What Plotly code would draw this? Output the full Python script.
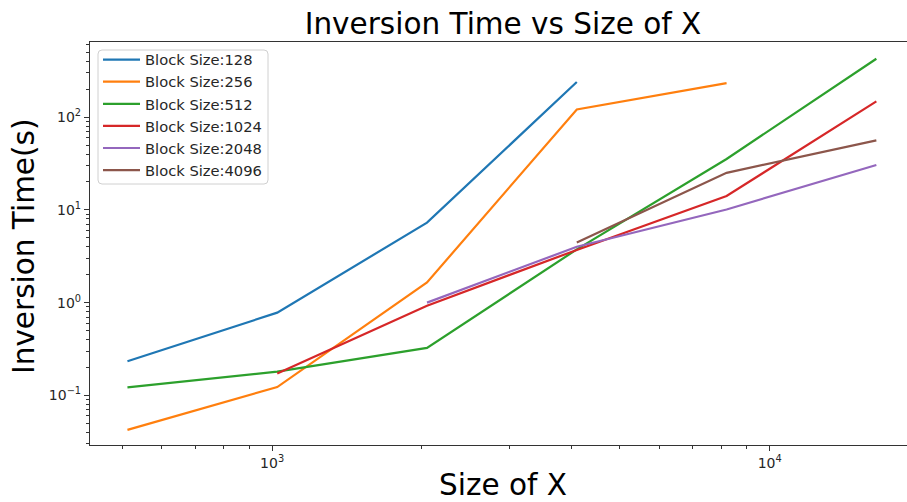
import plotly.graph_objects as go

sizes = [512, 1024, 2048, 4096, 8192, 16384]
labels = ["Block Size:128", "Block Size:256", "Block Size:512",
          "Block Size:1024", "Block Size:2048", "Block Size:4096"]
bs128 = [0.233, 0.78, 7.28, 239]
bs256 = [0.0425, 0.123, 1.65, 121, 233]
bs512 = [0.122, 0.18, 0.325, 3.75, 35.4, 426]
bs1024 = [0.172, 0.927, 3.7, 14.1, 148]
bs2048 = [1.0, 4.0, 10.1, 30.5]
bs4096 = [4.44, 25.1, 56.1]
colors = ["#1f77b4", "#ff7f0e", "#2ca02c", "#d62728", "#9467bd", "#8c564b"]

series = [
    (sizes[:4], bs128),
    (sizes[:5], bs256),
    (sizes[0:6], bs512),
    (sizes[1:6], bs1024),
    (sizes[2:6], bs2048),
    (sizes[3:6], bs4096),
]

W, H = 907, 502
L, T, B = 90, 42, 57
FONT = "DejaVu Sans"
W_plot = W - L
H_plot = H - T - B


def px(xp):
    return (xp - L) / W_plot


def py(yp):
    return (H - B - yp) / H_plot


fig = go.Figure()
for (x, y), name, c in zip(series, labels, colors):
    fig.add_trace(go.Scatter(x=x, y=y, mode="lines", name=name,
                             line=dict(color=c, width=2.2)))

xminor = [v * 10 ** e for e in (2, 3, 4) for v in range(2, 10)]
yminor = [v * 10.0 ** e for e in (-2, -1, 0, 1, 2) for v in range(2, 10)]

tickfont = dict(family=FONT, size=14, color="#262626")
fig.update_xaxes(type="log", range=[2.634, 4.276],
                 tickvals=[1000, 10000],
                 ticktext=["10<sup>3</sup>", "10<sup>4</sup>"],
                 ticks="outside", ticklen=5, tickwidth=1.1, tickcolor="#333",
                 minor=dict(tickvals=xminor, ticks="outside", ticklen=3,
                            tickwidth=0.8, tickcolor="#333", showgrid=False),
                 showline=True, linecolor="#333", linewidth=1.2, mirror=True,
                 showgrid=False, zeroline=False, tickfont=tickfont)
fig.update_yaxes(type="log", range=[-1.535, 2.81],
                 tickvals=[0.1, 1, 10, 100],
                 ticktext=["10<sup>−1</sup>", "10<sup>0</sup>", "10<sup>1</sup>", "10<sup>2</sup>"],
                 ticks="outside", ticklen=5, tickwidth=1.1, tickcolor="#333",
                 minor=dict(tickvals=yminor, ticks="outside", ticklen=3,
                            tickwidth=0.8, tickcolor="#333", showgrid=False),
                 showline=True, linecolor="#333", linewidth=1.2, mirror=False,
                 showgrid=False, zeroline=False, tickfont=tickfont)

# legend frame (rounded box) drawn as a shape, legend itself transparent
x0, x1, y0, y1, r = px(98), px(268), py(50), py(184), 4
rx, ry = r / W_plot, r / H_plot
path = (f"M {x0+rx},{y0} L {x1-rx},{y0} Q {x1},{y0} {x1},{y0-ry} "
        f"L {x1},{y1+ry} Q {x1},{y1} {x1-rx},{y1} L {x0+rx},{y1} "
        f"Q {x0},{y1} {x0},{y1+ry} L {x0},{y0-ry} Q {x0},{y0} {x0+rx},{y0} Z")

fig.update_layout(
    width=W, height=H,
    margin=dict(l=L, r=0, t=T, b=B, autoexpand=False),
    paper_bgcolor="white", plot_bgcolor="white",
    font=dict(family=FONT, color="#222"),
    showlegend=True,
    title=dict(text="Inversion Time vs Size of X", x=px(503), xref="paper",
               xanchor="center", y=1 - 24 / H, yref="container", yanchor="middle",
               font=dict(family=FONT, size=29.5, color="#000")),
    legend=dict(x=px(98), y=py(43.5),
                xanchor="left", yanchor="top",
                bgcolor="rgba(0,0,0,0)", borderwidth=0,
                font=dict(family=FONT, size=14.7, color="#262626"),
                tracegroupgap=0, itemwidth=37),
    shapes=[dict(type="path", path=path, xref="paper", yref="paper",
                 fillcolor="rgba(255,255,255,0.85)",
                 line=dict(color="#d0d0d0", width=1), layer="above")],
    annotations=[
        dict(text="Size of X", x=px(503), xref="paper",
             y=py(484.5), yref="paper",
             xanchor="center", yanchor="middle", showarrow=False,
             font=dict(family=FONT, size=29.5, color="#000")),
        dict(text="Inversion Time(s)", x=px(24), xref="paper",
             y=py(247), yref="paper", textangle=-90,
             xanchor="center", yanchor="middle", showarrow=False,
             font=dict(family=FONT, size=29.5, color="#000")),
    ],
)

fig.write_html("out.html")
